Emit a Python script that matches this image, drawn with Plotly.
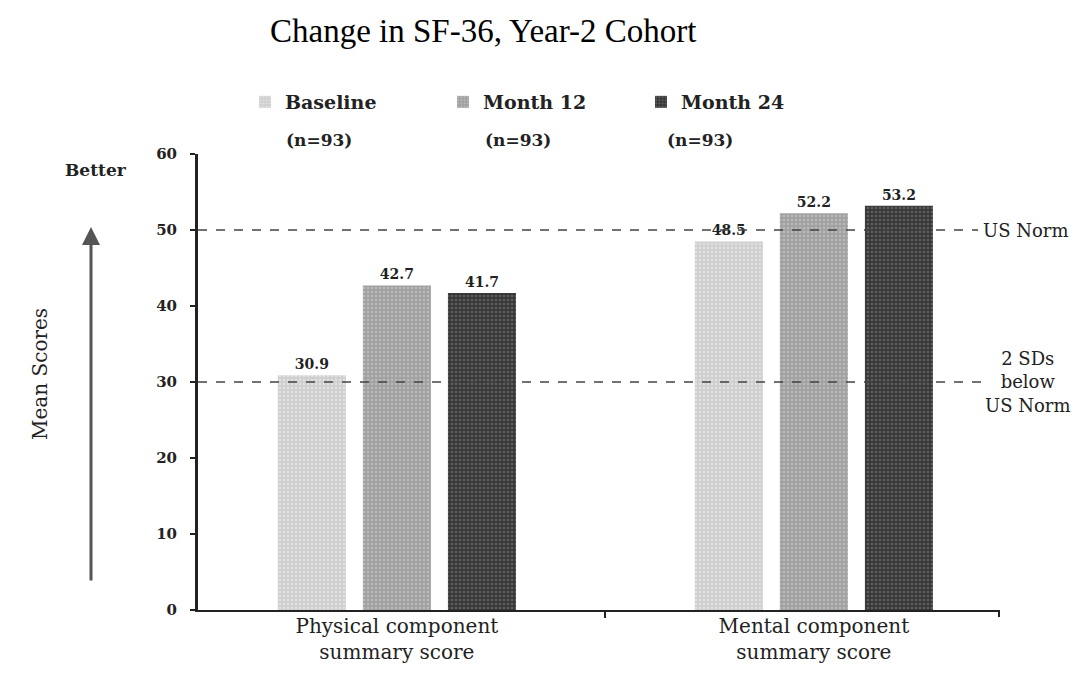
import plotly.graph_objects as go

categories = ["Physical component<br>summary score", "Mental component<br>summary score"]
series_names = ["Baseline", "Month 12", "Month 24"]
series_n = ["(n=93)", "(n=93)", "(n=93)"]
baseline = [30.9, 48.5]
month12 = [42.7, 52.2]
month24 = [41.7, 53.2]
us_norm = 50
two_sd_below = 30
y_ticks = [0, 10, 20, 30, 40, 50, 60]

series_values = [baseline, month12, month24]
colors = ["#cecece", "#a0a0a0", "#383838"]
fgcolors = ["#f2f2f2", "#d2d2d2", "#858585"]

FONT = "DejaVu Serif"
TFONT = "Liberation Serif"
INK = "#222"

W, H = 1079, 673
L, R, T, B = 190, 991, 146, 602      # plot-area pixel edges
PW, PH = R - L, B - T


def px(x):
    return (x - L) / PW


def py(y):
    return (B - y) / PH


fig = go.Figure()
for name, vals, col, fg in zip(series_names, series_values, colors, fgcolors):
    fig.add_trace(go.Bar(
        x=categories, y=vals, name=name,
        marker=dict(color=col, line=dict(width=0),
                    pattern=dict(shape=".", fgcolor=fg, size=4, solidity=0.35)),
        text=[f"{v:.1f}" for v in vals], textposition="outside",
        textfont=dict(family=FONT, size=14, color=INK, weight="bold"),
        cliponaxis=False,
    ))

fig.update_layout(
    width=W, height=H,
    paper_bgcolor="white", plot_bgcolor="white",
    margin=dict(l=L, r=W - R, t=T, b=H - B, autoexpand=False),
    barmode="group", bargap=0.388, bargroupgap=0.2,
    font=dict(family=FONT, color=INK),
    title=dict(text="Change in SF-36, Year-2 Cohort", x=262 / W, xanchor="left",
               y=1 - 22 / H, yanchor="middle", xref="container", yref="container",
               font=dict(family=TFONT, size=33, color="black")),
    showlegend=True,
    legend=dict(orientation="h", x=px(237), xanchor="left", y=py(94), yanchor="middle",
                entrywidth=153, entrywidthmode="pixels", traceorder="normal",
                font=dict(family=FONT, size=19, color=INK, weight="bold"),
                bgcolor="rgba(0,0,0,0)"),
)

fig.update_xaxes(type="category", range=[-0.477, 1.444], showline=True, linecolor=INK, linewidth=2,
                 ticks="outside", tickson="boundaries", ticklen=6, tickcolor=INK, tickwidth=2,
                 showgrid=False, zeroline=False, ticklabelstandoff=-3,
                 tickfont=dict(family=FONT, size=20, color=INK))
fig.update_yaxes(range=[0, 60], tickvals=y_ticks, showline=True, linecolor=INK, linewidth=3,
                 ticks="outside", ticklen=5, tickcolor=INK, tickwidth=2,
                 showgrid=False, zeroline=False, ticklabelstandoff=10,
                 tickfont=dict(family=FONT, size=15, color=INK, weight="bold"))

# right end mark of the x axis
fig.add_shape(type="line", xref="paper", yref="paper", x0=1, x1=1, y0=0, y1=-7 / PH,
              line=dict(color=INK, width=2))

# reference lines
fig.add_shape(type="line", xref="paper", yref="y", x0=0, x1=px(970), y0=us_norm, y1=us_norm,
              line=dict(color="#444", width=1.5, dash="dash"))
fig.add_shape(type="line", xref="paper", yref="y", x0=0, x1=px(974), y0=two_sd_below, y1=two_sd_below,
              line=dict(color="#444", width=1.5, dash="dash"))

ann_font = dict(family=FONT, size=18, color=INK)
fig.add_annotation(xref="paper", yref="y", x=px(973), y=us_norm, xanchor="left", yanchor="middle",
                   text="US Norm", showarrow=False, font=ann_font)
fig.add_annotation(xref="paper", yref="y", x=px(1019), y=two_sd_below, xanchor="center", yanchor="middle",
                   text="2 SDs<br>below<br>US Norm", showarrow=False, font=ann_font, align="center")

# legend sample sizes
for xc, n in zip([311, 510, 692], series_n):
    fig.add_annotation(xref="paper", yref="paper", x=px(xc), y=py(132),
                       xanchor="center", yanchor="middle", text=n, showarrow=False,
                       font=dict(family=FONT, size=17, color=INK, weight="bold"))

# axis title and "Better" arrow
fig.add_annotation(xref="paper", yref="paper", x=px(32), y=py(366), xanchor="center", yanchor="middle",
                   text="Mean Scores", textangle=-90, showarrow=False,
                   font=dict(family=FONT, size=20, color=INK))
fig.add_annotation(xref="paper", yref="paper", x=px(88), y=py(162), xanchor="center", yanchor="middle",
                   text="Better", showarrow=False,
                   font=dict(family=FONT, size=17, color=INK, weight="bold"))
fig.add_annotation(xref="paper", yref="paper", x=px(83), y=py(219),
                   ax=0, ay=355, axref="pixel", ayref="pixel", text="", showarrow=True,
                   arrowhead=2, arrowsize=1.2, arrowwidth=3, arrowcolor="#555")

fig.write_html("out.html")
